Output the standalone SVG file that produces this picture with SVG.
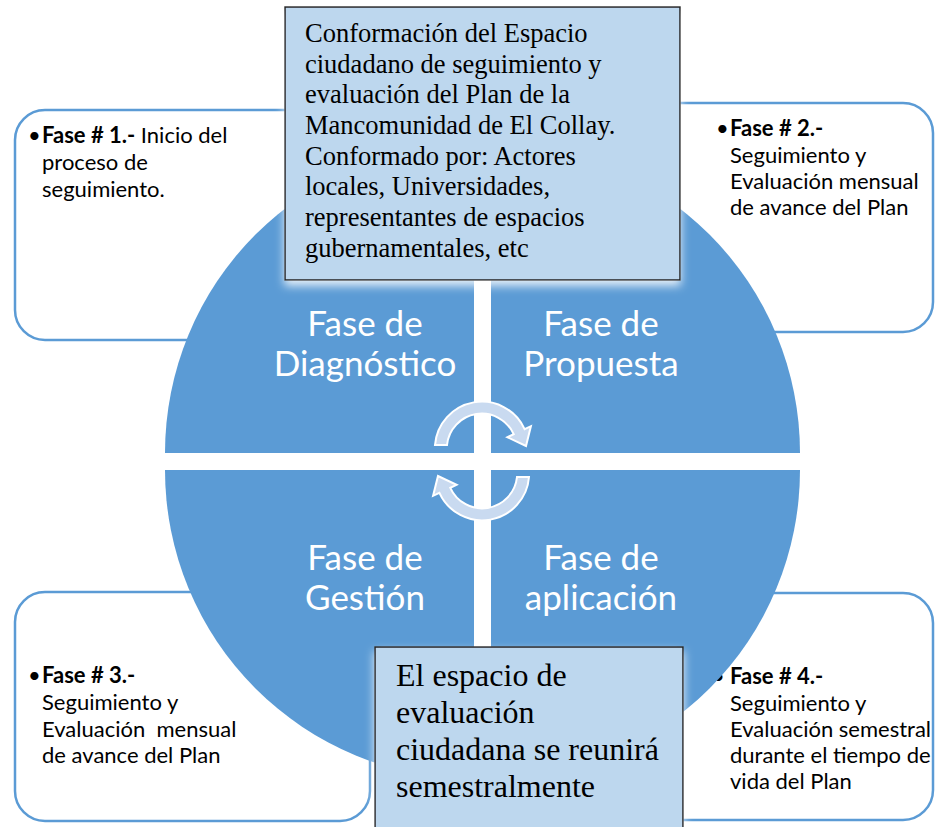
<svg xmlns="http://www.w3.org/2000/svg" width="935" height="827" viewBox="0 0 935 827">
<defs>
<style>
.side{fill:#ffffff;stroke:#5B9BD5;stroke-width:2.5}
.quad{fill:#5B9BD5}
.arrow{fill:#C9DAF0;stroke:#ffffff;stroke-width:2}
.note{fill:#BDD7EE;stroke:#222222;stroke-width:1.5}
.st{font-family:Lato,"Liberation Sans",sans-serif;font-size:22px;fill:#000000;white-space:pre}
.b{font-weight:bold}
.lbl{font-family:Lato,"Liberation Sans",sans-serif;font-size:35px;fill:#ffffff;text-anchor:middle}
.ser{font-family:"Liberation Serif","Times New Roman",serif;fill:#000000}
</style>
<filter id="glow" x="-10%" y="-10%" width="120%" height="130%">
<feDropShadow dx="0" dy="5" stdDeviation="5" flood-color="#ffffff" flood-opacity="0.85"/>
</filter>
</defs>
<rect width="935" height="827" fill="#ffffff"/>

<g id="fase1">
<rect class="side" x="15" y="110" width="400" height="230" rx="30"/>
<text class="st" y="143"><tspan x="28">•</tspan><tspan x="42" class="b">Fase # 1.-</tspan><tspan> Inicio del</tspan><tspan x="42" y="170">proceso de</tspan><tspan x="42" y="197">seguimiento.</tspan></text>
</g>
<g id="fase2">
<rect class="side" x="560" y="103" width="373" height="229" rx="30"/>
<text class="st" y="136"><tspan x="716">•</tspan><tspan x="730" class="b">Fase # 2.-</tspan><tspan x="730" y="163">Seguimiento y</tspan><tspan x="730" y="189">Evaluación mensual</tspan><tspan x="730" y="215">de avance del Plan</tspan></text>
</g>
<g id="fase3">
<rect class="side" x="15" y="592" width="355" height="229" rx="30"/>
<text class="st" y="683"><tspan x="28">•</tspan><tspan x="42" class="b">Fase # 3.-</tspan><tspan x="42" y="710">Seguimiento y</tspan><tspan x="42" y="737">Evaluación  mensual</tspan><tspan x="42" y="763">de avance del Plan</tspan></text>
</g>
<g id="fase4">
<rect class="side" x="560" y="593" width="373" height="227" rx="30"/>
<text class="st" y="684"><tspan x="712">•</tspan><tspan x="730" class="b">Fase # 4.-</tspan><tspan x="730" y="711">Seguimiento y</tspan><tspan x="730" y="737">Evaluación semestral</tspan><tspan x="730" y="763">durante el tiempo de</tspan><tspan x="730" y="789">vida del Plan</tspan></text>
</g>

<g id="diagnostico">
<path class="quad" d="M474,453 L165,453 A309,309 0 0 1 474,144 Z"/>
<text class="lbl" x="365" y="336">Fase de</text>
<text class="lbl" x="365" y="376">Diagnóstico</text>
</g>
<g id="propuesta">
<path class="quad" d="M491,453 L491,144 A309,309 0 0 1 800,453 Z"/>
<text class="lbl" x="601" y="336">Fase de</text>
<text class="lbl" x="601" y="376">Propuesta</text>
</g>
<g id="gestion">
<path class="quad" d="M474,470 L474,779 A309,309 0 0 1 165,470 Z"/>
<text class="lbl" x="365" y="570">Fase de</text>
<text class="lbl" x="365" y="610">Gestión</text>
</g>
<g id="aplicacion">
<path class="quad" d="M491,470 L800,470 A309,309 0 0 1 491,779 Z"/>
<text class="lbl" x="601" y="570">Fase de</text>
<text class="lbl" x="601" y="610">aplicación</text>
</g>

<g id="connectors">
<path class="arrow" d="M435,445 A47,47 0 0 1 524.6,429.1 L530.9,426.2 L526,446 L507.4,437.2 L513.7,434.2 A35,35 0 0 0 447,445 Z"/>
<path class="arrow" d="M529,477 A47,47 0 0 1 439.4,492.9 L433.1,495.8 L438,476 L456.6,484.8 L450.3,487.8 A35,35 0 0 0 517,477 Z"/>
</g>

<g id="espacio">
<rect class="note" x="285" y="7" width="395" height="273" filter="url(#glow)"/>
<text class="ser" font-size="26.5"><tspan x="305" y="42">Conformación del Espacio</tspan><tspan x="305" y="73">ciudadano de seguimiento y</tspan><tspan x="305" y="103">evaluación del Plan de la</tspan><tspan x="305" y="134">Mancomunidad de El Collay.</tspan><tspan x="305" y="165">Conformado por: Actores</tspan><tspan x="305" y="195">locales, Universidades,</tspan><tspan x="305" y="226">representantes de espacios</tspan><tspan x="305" y="257">gubernamentales, etc</tspan></text>
</g>
<g id="reunion">
<rect class="note" x="375" y="647" width="308" height="200" filter="url(#glow)"/>
<text class="ser" font-size="32"><tspan x="396" y="686">El espacio de</tspan><tspan x="396" y="723">evaluación</tspan><tspan x="396" y="760">ciudadana se reunirá</tspan><tspan x="396" y="797">semestralmente</tspan></text>
</g>
</svg>
